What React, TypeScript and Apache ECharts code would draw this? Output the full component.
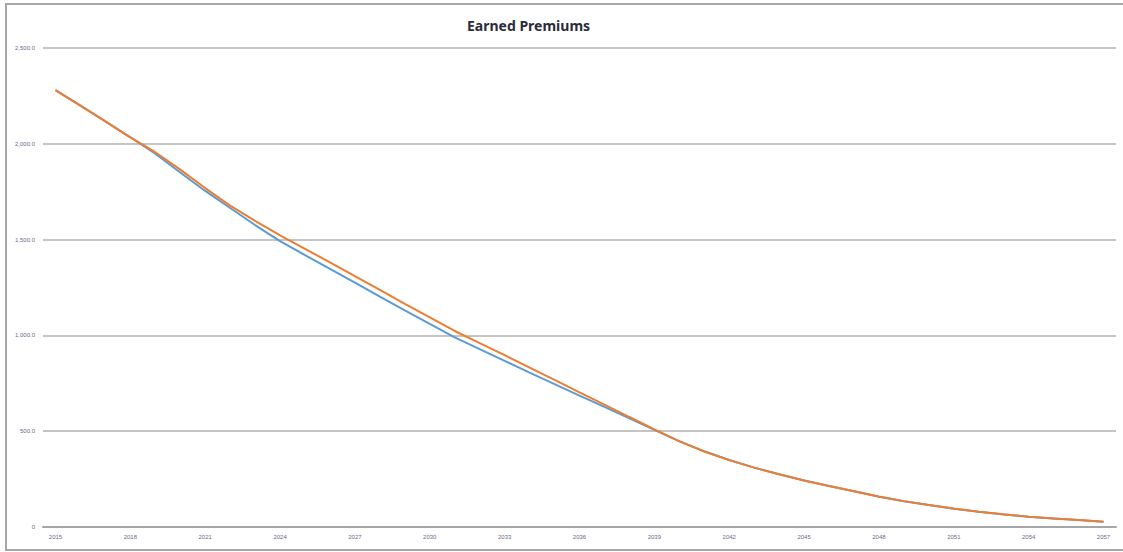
import React, { useEffect, useRef } from "react";
import * as echarts from "echarts";

const years: string[] = [
  "2015", "2016", "2017", "2018", "2019", "2020", "2021", "2022", "2023", "2024",
  "2025", "2026", "2027", "2028", "2029", "2030", "2031", "2032", "2033", "2034",
  "2035", "2036", "2037", "2038", "2039", "2040", "2041", "2042", "2043", "2044",
  "2045", "2046", "2047", "2048", "2049", "2050", "2051", "2052", "2053", "2054",
  "2055", "2056", "2057",
];

const seriesBlue: number[] = [
  2280, 2199, 2117, 2034, 1948, 1850, 1754, 1665, 1576, 1492,
  1419, 1347, 1275, 1203, 1131, 1060, 990, 928, 867, 806,
  746, 686, 627, 567, 507, 447, 395, 350, 310, 275,
  243, 214, 187, 158, 134, 115, 95, 79, 65, 54,
  45, 36, 28,
];

const seriesOrange: number[] = [
  2280, 2199, 2117, 2034, 1956, 1865, 1769, 1677, 1598, 1522,
  1452, 1381, 1309, 1237, 1165, 1094, 1023, 960, 897, 832,
  768, 703, 639, 574, 510, 448, 394, 349, 310, 275,
  243, 214, 187, 159, 135, 115, 96, 80, 66, 54,
  45, 37, 27,
];

const yTicks: number[] = [0, 500, 1000, 1500, 2000, 2500];

export default function App() {
  const ref = useRef<HTMLDivElement>(null);

  useEffect(() => {
    if (!ref.current) return;
    const chart = echarts.init(ref.current, undefined, { renderer: "svg" });
    chart.setOption({
      animation: false,
      backgroundColor: "#ffffff",
      title: {
        text: "Earned Premiums",
        left: 462,
        top: 13,
        textStyle: {
          fontFamily: "Noto Sans",
          fontSize: 14,
          fontWeight: "bold",
          color: "#2b2b3b",
        },
      },
      graphic: [
        {
          type: "rect",
          shape: { x: 6, y: 4, width: 1140, height: 546 },
          style: { fill: "none", stroke: "#a6a6a6", lineWidth: 2 },
          silent: true,
          z: 0,
        },
      ],
      grid: { left: 43, right: 7, top: 48, bottom: 25, containLabel: false },
      xAxis: {
        type: "category",
        data: years,
        boundaryGap: true,
        axisLine: { show: true, lineStyle: { color: "#a6a6a6", width: 2 } },
        axisTick: { show: false },
        axisLabel: {
          interval: 2,
          fontSize: 6,
          fontFamily: "Liberation Sans",
          color: "#6a6a8a",
          margin: 7,
        },
        splitLine: { show: false },
      },
      yAxis: {
        type: "value",
        min: 0,
        max: yTicks[yTicks.length - 1],
        interval: 500,
        axisLine: { show: false },
        axisTick: { show: false },
        axisLabel: {
          fontSize: 6,
          fontFamily: "Liberation Sans",
          color: "#6a6a8a",
          margin: 8,
          formatter: (v: number) =>
            v === 0
              ? "0"
              : v.toLocaleString("en-US", { minimumFractionDigits: 1, maximumFractionDigits: 1 }),
        },
        splitLine: { show: true, lineStyle: { color: "#c4c4c4", width: 2 } },
      },
      series: [
        {
          name: "Series 1",
          type: "line",
          data: seriesBlue,
          showSymbol: false,
          smooth: false,
          lineStyle: { color: "#5B9BD5", width: 2 },
          itemStyle: { color: "#5B9BD5" },
          z: 2,
        },
        {
          name: "Series 2",
          type: "line",
          data: seriesOrange,
          showSymbol: false,
          smooth: false,
          lineStyle: { color: "#ED7D31", width: 2 },
          itemStyle: { color: "#ED7D31" },
          z: 3,
        },
      ],
    });
    return () => chart.dispose();
  }, []);

  return (
    <div
      ref={ref}
      style={{ position: "absolute", left: 0, top: 0, width: 1123, height: 552 }}
    />
  );
}
